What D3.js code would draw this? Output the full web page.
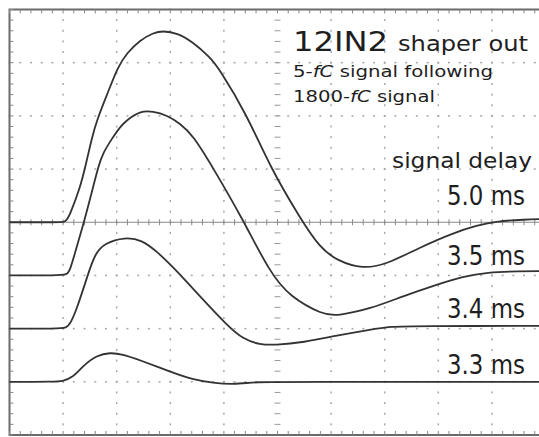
<!DOCTYPE html>
<html>
<head>
<meta charset="utf-8">
<script src="https://cdn.jsdelivr.net/npm/d3@7"></script>
<style>
  body { margin: 0; background: #fff; }
  svg { display: block; }
  text { font-family: "Comic Sans MS", "DejaVu Sans", sans-serif; fill: #1e1e1e; }
</style>
</head>
<body>
<div class="scope"></div>
<script>
var w = 539;
var h = 437;

// time and amplitude in screen divisions (10 x 8 grid)
var sig50 = [[0,0],[0.9,0],[1.05,0],[1.12,0.12],[1.32,0.66],[1.41,1.02],[1.54,1.60],[1.63,1.92],[1.84,2.45],
  [2.02,2.92],[2.19,3.18],[2.43,3.42],[2.68,3.56],[2.86,3.60],[3.13,3.56],[3.42,3.39],[3.74,3.10],[3.89,2.92],
  [4.43,2.02],[4.86,1.04],[5.42,0.08],[5.79,-0.48],[6.11,-0.72],[6.59,-0.88],[7.04,-0.79],[7.66,-0.47],
  [8.28,-0.20],[8.72,-0.06],[9.10,0.02],[9.6,0.05],[10,0.06]];
var sig35 = [[0,-1],[0.9,-1],[1.07,-0.99],[1.13,-0.90],[1.22,-0.58],[1.39,0],[1.56,0.66],[1.65,1.02],[1.74,1.30],
  [1.93,1.60],[2.06,1.79],[2.19,1.92],[2.43,2.09],[2.68,2.09],[2.94,2.01],[3.18,1.86],[3.42,1.64],[3.80,1.02],
  [4.34,0.08],[4.86,-0.95],[5.23,-1.40],[5.85,-1.74],[6.11,-1.76],[6.73,-1.63],[7.34,-1.39],[7.98,-1.17],
  [8.46,-1.02],[8.91,-0.94],[9.5,-0.92],[10,-0.92]];
var sig34 = [[0,-2],[0.9,-2],[1.06,-1.99],[1.14,-1.90],[1.26,-1.62],[1.46,-0.99],[1.60,-0.58],[1.78,-0.39],
  [2.15,-0.28],[2.47,-0.33],[2.75,-0.55],[3.05,-0.84],[3.55,-1.39],[4.06,-1.94],[4.36,-2.20],[4.67,-2.30],
  [4.95,-2.31],[5.48,-2.26],[6.11,-2.13],[6.73,-2.02],[7.10,-1.96],[7.6,-1.95],[10,-1.95]];
var sig33 = [[0,-3],[0.85,-3],[0.98,-2.99],[1.17,-2.93],[1.37,-2.70],[1.63,-2.50],[1.88,-2.45],[2.10,-2.48],
  [2.43,-2.59],[3.00,-2.81],[3.42,-2.96],[3.80,-3.02],[4.17,-3.05],[4.62,-3.00],[5.2,-3.00],[10,-3.00]];

var delayLabels = ["5.0 ms", "3.5 ms", "3.4 ms", "3.3 ms"];
var delayLabelY = [0.33, -0.80, -1.80, -2.85];
var titleLines = ["5-", "fC", " signal following"];

var x = d3.scaleLinear().domain([0, 10]).range([9.5, 545.5]);
var y = d3.scaleLinear().domain([-4, 4]).range([435, 9.5]);

var svg = d3.select(".scope")
    .append("svg")
    .attr("width", w)
    .attr("height", h);

// dotted graticule
var majorX = d3.range(1, 10);
var majorY = d3.range(-3, 4);
var minorX = d3.range(0, 10.001, 0.2);
var minorY = d3.range(-4, 4.001, 0.2);

var grid = svg.append("g").attr("class", "grid");
grid.selectAll(".vdot")
    .data(majorX.filter(function (d) { return d !== 5; }))
    .enter()
    .append("g")
    .each(function (gx) {
        d3.select(this).selectAll("rect")
            .data(minorY)
            .enter()
            .append("rect")
            .attr("x", x(gx) - 0.75)
            .attr("y", function (d) { return y(d) - 1; })
            .attr("width", 1.5)
            .attr("height", 2)
            .attr("fill", "#a8a8a8");
    });
grid.selectAll(".hdot")
    .data(majorY.filter(function (d) { return d !== 0; }))
    .enter()
    .append("g")
    .each(function (gy) {
        d3.select(this).selectAll("rect")
            .data(minorX)
            .enter()
            .append("rect")
            .attr("x", function (d) { return x(d) - 1; })
            .attr("y", y(gy) - 0.75)
            .attr("width", 2)
            .attr("height", 1.5)
            .attr("fill", "#a8a8a8");
    });

// centre axes with minor ticks
svg.append("line")
    .attr("x1", x(0)).attr("x2", x(10))
    .attr("y1", y(0)).attr("y2", y(0))
    .attr("stroke", "#888").attr("stroke-width", 1);
svg.append("g").selectAll("line")
    .data(minorX)
    .enter()
    .append("line")
    .attr("x1", function (d) { return x(d); })
    .attr("x2", function (d) { return x(d); })
    .attr("y1", y(0) - 3).attr("y2", y(0) + 3)
    .attr("stroke", "#888");
svg.append("g").selectAll("line")
    .data(minorY)
    .enter()
    .append("line")
    .attr("x1", x(5) - 3).attr("x2", x(5) + 3)
    .attr("y1", function (d) { return y(d); })
    .attr("y2", function (d) { return y(d); })
    .attr("stroke", "#999");

// frame with inward ticks
svg.append("rect")
    .attr("x", x(0)).attr("y", y(4))
    .attr("width", x(10) - x(0)).attr("height", y(-4) - y(4))
    .attr("fill", "none").attr("stroke", "#6a6a6a").attr("stroke-width", 2);
var frameTicks = svg.append("g").attr("stroke", "#888");
frameTicks.selectAll(".t").data(minorX).enter().append("line")
    .attr("x1", function (d) { return x(d); }).attr("x2", function (d) { return x(d); })
    .attr("y1", y(4)).attr("y2", y(4) + 4);
frameTicks.selectAll(".b").data(minorX).enter().append("line")
    .attr("x1", function (d) { return x(d); }).attr("x2", function (d) { return x(d); })
    .attr("y1", y(-4)).attr("y2", y(-4) - 4);
frameTicks.selectAll(".l").data(minorY).enter().append("line")
    .attr("x1", x(0)).attr("x2", x(0) + 4)
    .attr("y1", function (d) { return y(d); }).attr("y2", function (d) { return y(d); });

// traces
var line = d3.line()
    .x(function (d) { return x(d[0]); })
    .y(function (d) { return y(d[1]); })
    .curve(d3.curveBasis);

svg.append("g").selectAll("path")
    .data([sig50, sig35, sig34, sig33])
    .enter()
    .append("path")
    .attr("d", line)
    .attr("fill", "none")
    .attr("stroke", "#333")
    .attr("stroke-width", 1.8);

// annotations
svg.append("text")
    .attr("x", 293).attr("y", 51)
    .attr("font-size", 27)
    .attr("textLength", 95).attr("lengthAdjust", "spacingAndGlyphs")
    .text("12IN2");
svg.append("text")
    .attr("x", 398).attr("y", 51)
    .attr("font-size", 21)
    .attr("textLength", 130).attr("lengthAdjust", "spacingAndGlyphs")
    .text("shaper out");

var sub1 = svg.append("text")
    .attr("x", 293).attr("y", 77)
    .attr("font-size", 16)
    .attr("textLength", 200).attr("lengthAdjust", "spacingAndGlyphs");
sub1.selectAll("tspan").data(titleLines).enter().append("tspan")
    .style("font-style", function (d) { return d === "fC" ? "italic" : null; })
    .text(function (d) { return d; });

var sub2 = svg.append("text")
    .attr("x", 293).attr("y", 102)
    .attr("font-size", 16)
    .attr("textLength", 142).attr("lengthAdjust", "spacingAndGlyphs");
sub2.selectAll("tspan").data(["1800-", "fC", " signal"]).enter().append("tspan")
    .style("font-style", function (d) { return d === "fC" ? "italic" : null; })
    .text(function (d) { return d; });

svg.append("text")
    .attr("x", 392).attr("y", 168)
    .attr("font-size", 21)
    .attr("textLength", 140).attr("lengthAdjust", "spacingAndGlyphs")
    .text("signal delay");

svg.append("g").selectAll("text")
    .data(delayLabels)
    .enter()
    .append("text")
    .attr("x", 447)
    .attr("y", function (d, i) { return y(delayLabelY[i]); })
    .attr("font-size", 26)
    .attr("textLength", 78).attr("lengthAdjust", "spacingAndGlyphs")
    .text(function (d) { return d; });
</script>
</body>
</html>
